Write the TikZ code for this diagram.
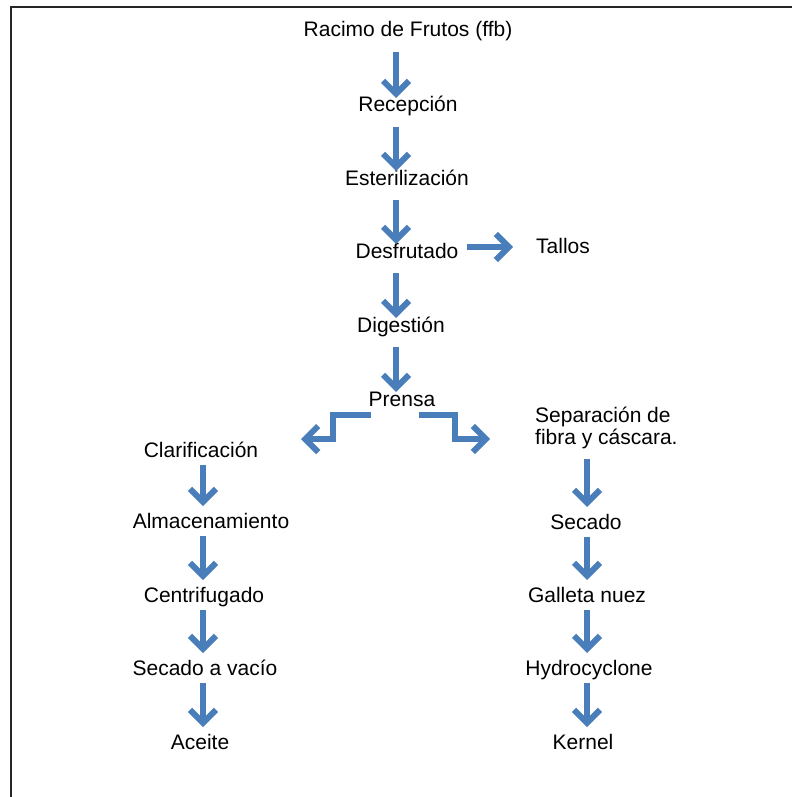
\documentclass[tikz,border=0pt]{standalone}
\usepackage{fontspec}
\setmainfont{Liberation Sans}
\usetikzlibrary{arrows.meta}
\definecolor{flowblue}{HTML}{4A7EBB}
\tikzset{
  lbl/.style={font=\fontsize{21}{22}\selectfont, inner sep=0pt, anchor=base},
  flow/.style={draw=flowblue, line width=6pt,
    -{Straight Barb[length=13pt,width=26pt,line width=6pt]}},
  frameline/.style={draw=black!85, line width=2.5pt}
}
\begin{document}
\begin{tikzpicture}[x=1pt,y=-1pt]
\useasboundingbox (0,0) rectangle (792,797);
% partial page frame (top and left edges)
\draw[frameline] (11,797) -- (11,7) -- (792,7);

% column axes for the arrows
\coordinate (colM) at (396,0);
\coordinate (colL) at (203,0);
\coordinate (colR) at (587,0);

% main line
\node[lbl] (racimo) at (408,37)  {Racimo de Frutos (ffb)};
\node[lbl] (recep)  at (408,112) {Recepción};
\node[lbl] (ester)  at (407,185) {Esterilización};
\node[lbl] (desfr)  at (407,258) {Desfrutado};
\node[lbl] (tallos) at (563,253) {Tallos};
\node[lbl] (diges)  at (401,332) {Digestión};
\node[lbl] (prensa) at (402,406) {Prensa};

% oil branch
\node[lbl] (clarif) at (201,457) {Clarificación};
\node[lbl] (almac)  at (211,528) {Almacenamiento};
\node[lbl] (centr)  at (204,602) {Centrifugado};
\node[lbl] (secvac) at (205,675) {Secado a vacío};
\node[lbl] (aceite) at (200,749) {Aceite};

% kernel branch
\node[lbl, anchor=west, align=left] (separ) at (535,428)
  {Separación de\\fibra y cáscara.};
\node[lbl] (secado)  at (586,529) {Secado};
\node[lbl] (galleta) at (587,602) {Galleta nuez};
\node[lbl] (hydro)   at (589,675) {Hydrocyclone};
\node[lbl] (kernel)  at (583,749) {Kernel};

% main line arrows
\foreach \a/\b in {racimo/recep, recep/ester, ester/desfr, desfr/diges, diges/prensa}
  \draw[flow] ([yshift=-15pt]\a.base -| colM) -- ([yshift=14pt]\b.base -| colM);
\draw[flow] ([xshift=60pt,yshift=11pt]desfr.base) -- ([xshift=-50pt,yshift=6pt]tallos.base);

% split after the press
\draw[flow] ([shift={(-31pt,-9pt)}]prensa.base) -- ++(-38,0) -- ++(0,24) -- ++(-32,0);
\draw[flow] ([shift={(17pt,-9pt)}]prensa.base) -- ++(36,0) -- ++(0,24) -- ++(35,0);

% oil branch arrows
\foreach \a/\b in {clarif/almac, almac/centr, centr/secvac, secvac/aceite}
  \draw[flow] ([yshift=-8pt]\a.base -| colL) -- ([yshift=22pt]\b.base -| colL);

% kernel branch arrows
\draw[flow] ([yshift=-10pt]separ.south -| colR) -- ([yshift=22pt]secado.base -| colR);
\foreach \a/\b in {secado/galleta, galleta/hydro, hydro/kernel}
  \draw[flow] ([yshift=-8pt]\a.base -| colR) -- ([yshift=22pt]\b.base -| colR);
\end{tikzpicture}
\end{document}
